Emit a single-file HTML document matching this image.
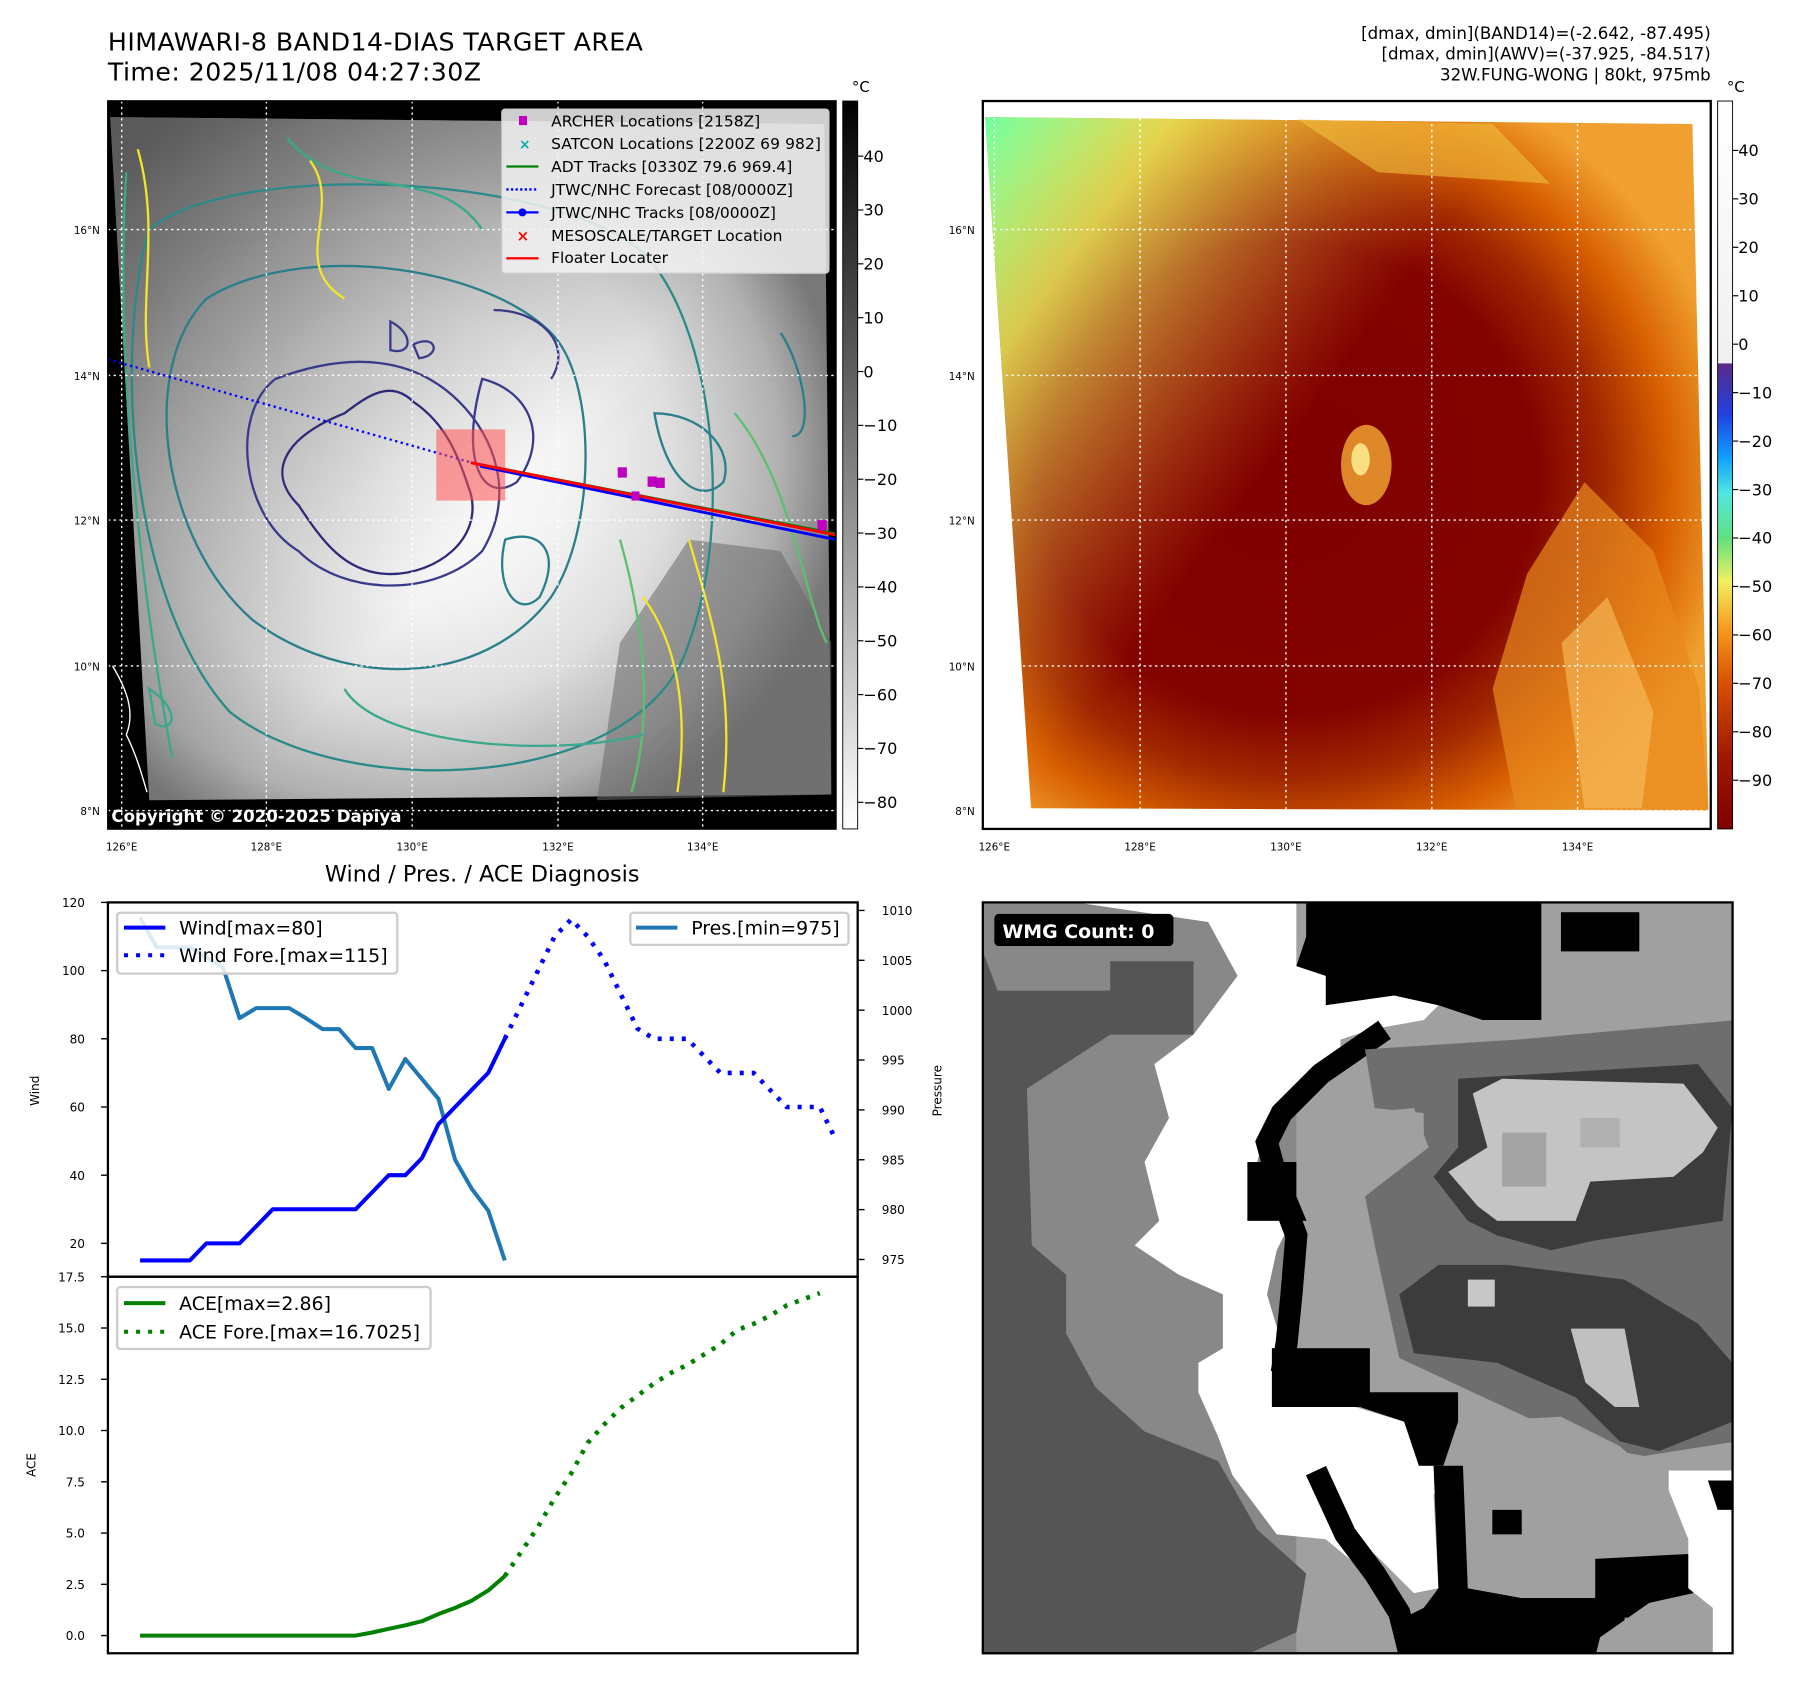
<!DOCTYPE html>
<html><head><meta charset="utf-8"><style>
html,body{margin:0;padding:0;background:#fff}
svg{display:block}
text{font-family:"DejaVu Sans","Liberation Sans",sans-serif}
</style></head><body>
<svg id="fig" width="1801" height="1690" viewBox="0 0 1568.6 1472" preserveAspectRatio="none" xmlns="http://www.w3.org/2000/svg">
<defs>
<radialGradient id="grayCenter" cx="0.42" cy="0.5" r="0.6">
<stop offset="0" stop-color="#ffffff"/><stop offset="0.35" stop-color="#f4f4f4"/><stop offset="0.6" stop-color="#dedede"/><stop offset="0.85" stop-color="#b0b0b0"/><stop offset="1" stop-color="#787878"/>
</radialGradient>
<linearGradient id="grayTL" x1="0" y1="0" x2="0.6" y2="0.5"><stop offset="0" stop-color="#555" stop-opacity="0.9"/><stop offset="1" stop-color="#555" stop-opacity="0"/></linearGradient>
<radialGradient id="redCenter" cx="0.42" cy="0.52" r="0.62">
<stop offset="0" stop-color="#800000"/><stop offset="0.55" stop-color="#820200"/><stop offset="0.7" stop-color="#a02800"/><stop offset="0.85" stop-color="#d86000"/><stop offset="1" stop-color="#f0a030"/>
</radialGradient>
<linearGradient id="greenTop" x1="0" y1="0" x2="0.5" y2="0.35"><stop offset="0" stop-color="#70ffa0"/><stop offset="0.35" stop-color="#e8f060" stop-opacity="0.8"/><stop offset="1" stop-color="#f0a030" stop-opacity="0"/></linearGradient>
<linearGradient id="grayBar" x1="0" y1="0" x2="0" y2="1"><stop offset="0" stop-color="#000"/><stop offset="1" stop-color="#fff"/></linearGradient>
<linearGradient id="colorBar" x1="0" y1="0" x2="0" y2="1">
<stop offset="0" stop-color="#ffffff"/><stop offset="0.36" stop-color="#f0f0f0"/><stop offset="0.361" stop-color="#5a2a8a"/><stop offset="0.43" stop-color="#2040e0"/><stop offset="0.49" stop-color="#10a0ff"/><stop offset="0.54" stop-color="#50e8e0"/><stop offset="0.6" stop-color="#60e080"/><stop offset="0.66" stop-color="#f0f060"/><stop offset="0.72" stop-color="#f8a020"/><stop offset="0.8" stop-color="#d85000"/><stop offset="0.9" stop-color="#a01800"/><stop offset="1" stop-color="#800000"/>
</linearGradient>
<clipPath id="clipBR"><rect x="856" y="786" width="653" height="654"/></clipPath>
<clipPath id="clipL"><rect x="94" y="88" width="634" height="634"/></clipPath>
</defs>

<text x="94" y="44" font-size="22" textLength="466">HIMAWARI-8 BAND14-DIAS TARGET AREA</text>
<text x="94" y="70" font-size="22" textLength="325">Time: 2025/11/08 04:27:30Z</text>
<text x="1490" y="34" font-size="14.5" text-anchor="end">[dmax, dmin](BAND14)=(-2.642, -87.495)</text>
<text x="1490" y="52" font-size="14.5" text-anchor="end">[dmax, dmin](AWV)=(-37.925, -84.517)</text>
<text x="1490" y="70" font-size="14.5" text-anchor="end">32W.FUNG-WONG | 80kt, 975mb</text>

<g>
<rect x="94" y="88" width="634" height="634" fill="#000"/>
<g clip-path="url(#clipL)">
<polygon points="96,102 718,108 724,692 130,697" fill="url(#grayCenter)"/>
<polygon points="96,102 718,108 724,692 130,697" fill="url(#grayTL)"/>
<polygon points="540,560 600,470 680,480 724,560 724,692 520,697" fill="#6a6a6a" opacity="0.55"/>
<g fill="none" stroke-width="2">
<path d="M300,360 C250,380 230,410 260,440 C280,470 300,500 340,500 C380,500 420,470 410,430 C400,400 390,370 360,350 C340,330 320,345 300,360Z" stroke="#2e2a78"/>
<path d="M240,330 C200,360 210,450 260,480 C300,520 380,520 420,480 C450,430 430,380 400,350 C370,320 320,300 240,330Z" stroke="#3a3a8a"/>
<path d="M180,260 C120,320 140,470 220,540 C300,600 420,600 480,520 C520,460 520,330 480,290 C420,230 260,210 180,260Z" stroke="#2a7f8a"/>
<path d="M130,200 C100,300 110,520 200,620 C300,700 560,690 600,560 C640,450 620,280 560,220 C480,150 200,140 130,200Z" stroke="#2a8a8a"/>
<path d="M110,150 C100,300 120,500 150,660 M250,120 C300,180 380,140 420,200" stroke="#3aa88a"/>
<path d="M120,130 C140,200 120,260 130,320 M270,140 C300,180 250,230 300,260" stroke="#f2e52a"/>
<path d="M560,520 C590,560 600,620 590,690 M600,470 C620,540 640,600 630,690" stroke="#f2e52a"/>
<path d="M540,470 C560,540 570,620 550,690 M640,360 C690,420 700,520 720,560" stroke="#5cc070"/>
<path d="M420,330 C460,340 480,380 450,420 C420,440 400,400 420,330Z" stroke="#3a3a8a"/>
<path d="M430,270 C470,270 500,300 480,330" stroke="#3a3a8a"/>
<path d="M340,280 C360,290 360,310 340,305Z M360,300 C380,290 385,310 365,312Z" stroke="#3a3a8a"/>
<path d="M570,360 C610,360 640,390 630,420 C610,440 580,420 570,360Z M680,290 C700,320 710,380 690,380" stroke="#2a7f8a"/>
<path d="M440,470 C470,460 490,480 470,520 C450,540 430,510 440,470Z" stroke="#2a7f8a"/>
<path d="M130,600 C160,620 150,640 135,630Z M300,600 C330,650 480,660 560,640" stroke="#3aa88a"/>
</g>
<path d="M98,580 C110,600 118,620 110,640 C120,660 125,680 128,690" fill="none" stroke="#fff" stroke-width="1.2"/>
</g>
<g stroke="#fff" stroke-width="1.2" stroke-dasharray="2,3">
<line x1="106" y1="88" x2="106" y2="722"/><line x1="232" y1="88" x2="232" y2="722"/><line x1="359" y1="88" x2="359" y2="722"/><line x1="486" y1="88" x2="486" y2="722"/><line x1="612" y1="88" x2="612" y2="722"/>
<line x1="94" y1="200" x2="728" y2="200"/><line x1="94" y1="327" x2="728" y2="327"/><line x1="94" y1="453" x2="728" y2="453"/><line x1="94" y1="580" x2="728" y2="580"/><line x1="94" y1="706" x2="728" y2="706"/>
</g>
<line x1="94" y1="313" x2="418" y2="405" stroke="#0000ff" stroke-width="2" stroke-dasharray="2,3"/>
<rect x="380" y="374" width="60" height="62" fill="#ff5050" opacity="0.55"/>
<line x1="420" y1="405" x2="728" y2="465" stroke="#008000" stroke-width="2.5"/>
<line x1="418" y1="406" x2="728" y2="470" stroke="#0000ff" stroke-width="2.5"/>
<line x1="410" y1="403" x2="728" y2="466" stroke="#ff0000" stroke-width="2.5"/>
<g fill="#c000c0">
<rect x="538" y="407" width="8" height="9"/><rect x="564" y="415" width="8" height="9"/><rect x="571" y="416" width="8" height="9"/><rect x="550" y="428" width="7" height="8"/><rect x="712" y="453" width="8" height="9"/>
</g>
<text x="97" y="716" font-size="14.5" font-weight="bold" fill="#fff">Copyright © 2020-2025 Dapiya</text>
<g font-size="13.5">
<rect x="437" y="95" width="285" height="143" rx="3" fill="#f2f2f2" fill-opacity="0.85" stroke="#ccc"/>
<rect x="452" y="101" width="7" height="8" fill="#c000c0"/><text x="480" y="110">ARCHER Locations [2158Z]</text>
<text x="452" y="130" font-size="12" fill="#00b0b0" font-weight="bold">×</text><text x="480" y="130" textLength="235">SATCON Locations [2200Z 69 982]</text>
<line x1="441" y1="145" x2="469" y2="145" stroke="#008000" stroke-width="2"/><text x="480" y="150">ADT Tracks [0330Z 79.6 969.4]</text>
<line x1="441" y1="165" x2="469" y2="165" stroke="#0000ff" stroke-width="2" stroke-dasharray="2,2"/><text x="480" y="170">JTWC/NHC Forecast [08/0000Z]</text>
<line x1="441" y1="185" x2="469" y2="185" stroke="#0000ff" stroke-width="2"/><circle cx="455" cy="185" r="3.5" fill="#0000ff"/><text x="480" y="190">JTWC/NHC Tracks [08/0000Z]</text>
<text x="450" y="210" font-size="13" fill="#ff0000" font-weight="bold">×</text><text x="480" y="210">MESOSCALE/TARGET Location</text>
<line x1="441" y1="225" x2="469" y2="225" stroke="#ff0000" stroke-width="2"/><text x="480" y="229">Floater Locater</text>
</g>
<rect x="94" y="88" width="634" height="634" fill="none" stroke="#000" stroke-width="1.5"/>
</g>
<g font-size="9">
<text x="87" y="204" text-anchor="end">16°N</text><text x="87" y="331" text-anchor="end">14°N</text><text x="87" y="457" text-anchor="end">12°N</text><text x="87" y="584" text-anchor="end">10°N</text><text x="87" y="710" text-anchor="end">8°N</text>
<text x="106" y="741" text-anchor="middle">126°E</text><text x="232" y="741" text-anchor="middle">128°E</text><text x="359" y="741" text-anchor="middle">130°E</text><text x="486" y="741" text-anchor="middle">132°E</text><text x="612" y="741" text-anchor="middle">134°E</text>
</g>
<g>
<rect x="734" y="88" width="13" height="634" fill="url(#grayBar)" stroke="#000" stroke-width="0.8"/>
<text x="742" y="80" font-size="13">°C</text>
<g font-size="14" id="grayTicks"></g>
</g>

<g>
<rect x="856" y="88" width="634" height="634" fill="#fff"/>
<polygon points="858,102 1474,108 1488,706 898,704" fill="url(#redCenter)"/>
<polygon points="858,102 1474,108 1488,706 898,704" fill="url(#greenTop)"/>
<polygon points="1130,104 1300,108 1350,160 1200,150" fill="#f0c040" opacity="0.6"/>
<polygon points="1330,500 1380,420 1440,480 1480,600 1488,706 1320,704 1300,600" fill="#e88a20" opacity="0.7"/>
<polygon points="1360,560 1400,520 1440,620 1430,704 1380,704" fill="#f8c060" opacity="0.6"/>
<ellipse cx="1190" cy="405" rx="22" ry="35" fill="#f0a030" opacity="0.85"/>
<ellipse cx="1185" cy="400" rx="8" ry="14" fill="#f8e080"/>
<g stroke="#fff" stroke-width="1.2" stroke-dasharray="2,3">
<line x1="866" y1="88" x2="866" y2="722"/><line x1="993" y1="88" x2="993" y2="722"/><line x1="1120" y1="88" x2="1120" y2="722"/><line x1="1247" y1="88" x2="1247" y2="722"/><line x1="1374" y1="88" x2="1374" y2="722"/>
<line x1="856" y1="200" x2="1490" y2="200"/><line x1="856" y1="327" x2="1490" y2="327"/><line x1="856" y1="453" x2="1490" y2="453"/><line x1="856" y1="580" x2="1490" y2="580"/><line x1="856" y1="706" x2="1490" y2="706"/>
</g>
<rect x="856" y="88" width="634" height="634" fill="none" stroke="#000" stroke-width="2"/>
</g>
<g font-size="9">
<text x="849" y="204" text-anchor="end">16°N</text><text x="849" y="331" text-anchor="end">14°N</text><text x="849" y="457" text-anchor="end">12°N</text><text x="849" y="584" text-anchor="end">10°N</text><text x="849" y="710" text-anchor="end">8°N</text>
<text x="866" y="741" text-anchor="middle">126°E</text><text x="993" y="741" text-anchor="middle">128°E</text><text x="1120" y="741" text-anchor="middle">130°E</text><text x="1247" y="741" text-anchor="middle">132°E</text><text x="1374" y="741" text-anchor="middle">134°E</text>
</g>
<g>
<rect x="1496" y="88" width="13" height="634" fill="url(#colorBar)" stroke="#000" stroke-width="0.8"/>
<text x="1504" y="80" font-size="13">°C</text>
<g font-size="14" id="colorTicks"></g>
</g>

<g>
<rect x="856" y="786" width="653" height="654" fill="#a0a0a0"/>
<g clip-path="url(#clipBR)"><g transform="translate(856,786) scale(0.4267)">
<rect x="0" y="0" width="640" height="1540" fill="#888"/>
<polygon points="190,0 640,0 640,130 720,150 720,200 840,190 930,210 900,240 790,260 730,280 730,330 650,360 590,420 560,530 630,650 600,710 580,800 610,900 590,1030 680,1000 760,1030 860,1060 890,1150 950,1150 920,1210 930,1400 880,1410 800,1330 760,1350 700,1300 600,1290 510,1170 480,1090 440,1000 440,940 490,910 490,800 400,760 310,700 360,650 330,530 380,440 350,330 430,270 520,150 460,40" fill="#fff"/>
<polygon points="0,100 30,180 260,180 260,120 430,120 430,270 260,270 90,380 100,700 170,760 170,880 230,990 330,1080 480,1140 560,1280 660,1370 640,1490 550,1530 0,1540" fill="#555"/>
<polygon points="660,0 1140,0 1140,240 1020,240 960,220 930,210 840,190 700,210 700,150 640,130 660,70" fill="#000"/>
<rect x="1180" y="20" width="160" height="80" fill="#000"/>
<polyline points="820,260 690,350 610,430 580,490 610,600 640,680 630,800 620,900 610,960" fill="none" stroke="#000" stroke-width="45"/>
<rect x="540" y="530" width="150" height="120" fill="#000"/>
<rect x="590" y="910" width="200" height="120" fill="#000"/>
<polygon points="770,1000 970,1000 970,1060 940,1150 890,1150 860,1060 770,1030" fill="#000"/>
<polyline points="680,1160 740,1290 800,1370 850,1450 870,1530" fill="none" stroke="#000" stroke-width="45"/>
<polygon points="920,1150 980,1150 990,1400 1100,1420 1250,1420 1250,1340 1440,1330 1450,1410 1360,1430 1260,1500 1250,1540 850,1540 840,1470 900,1440 930,1400" fill="#000"/>
<polygon points="1400,1160 1540,1160 1540,1540 1490,1540 1490,1440 1440,1400 1440,1300 1400,1200" fill="#fff"/>
<polygon points="1480,1180 1540,1180 1540,1240 1500,1240" fill="#000"/>
<polygon points="780,300 1090,280 1540,240 1540,1100 1350,1130 1180,1100 1130,1060 1000,1000 850,930 800,700 780,600 900,500 900,430 800,420" fill="#6e6e6e"/>
<polygon points="640,440 880,420 910,500 780,600 800,700 690,720 640,600" fill="#a0a0a0"/>
<polygon points="970,360 1460,330 1530,420 1510,650 1250,690 1160,710 1050,680 990,650 920,560 970,500" fill="#3c3c3c"/>
<polygon points="850,800 930,740 1070,740 1310,770 1460,860 1530,940 1530,1060 1380,1120 1300,1100 1210,1010 1050,940 880,920" fill="#3c3c3c"/>
<polygon points="1000,390 1060,360 1430,370 1500,460 1470,510 1410,560 1240,570 1210,650 1050,650 1010,620 950,550 1030,500" fill="#c4c4c4"/>
<rect x="1060" y="470" width="90" height="110" fill="#a4a4a4"/><rect x="1220" y="440" width="80" height="60" fill="#b0b0b0"/>
<polygon points="1200,870 1310,870 1340,1030 1290,1030 1230,980" fill="#c0c0c0"/>
<rect x="990" y="770" width="55" height="55" fill="#c8c8c8"/>
<polygon points="980,1060 1180,1050 1300,1110 1380,1180 1420,1300 1250,1330 1240,1420 1100,1420 990,1400" fill="#a0a0a0"/>
<rect x="1040" y="1240" width="60" height="50" fill="#000"/>
<rect x="1310" y="1460" width="120" height="70" fill="#a0a0a0"/>
</g></g>
<rect x="866" y="796" width="156" height="28" rx="4" fill="#000"/>
<text x="873" y="817" font-size="16.5" font-weight="bold" fill="#fff">WMG Count: 0</text>
<rect x="856" y="786" width="653" height="654" fill="none" stroke="#000" stroke-width="2"/>
</g>

<text x="420" y="768" font-size="19.5" text-anchor="middle">Wind / Pres. / ACE Diagnosis</text>
<g id="chart"></g>
</svg>
<script>
const windHist = [15,15,15,15,20,20,20,25,30,30,30,30,30,30,35,40,40,45,55,60,65,70,80];
const windFore = [80,90,100,110,115,110,103,93,83,80,80,80,75,70,70,70,65,60,60,60,50];
const presHist = [1009.3,1006.3,1006.3,1006.3,1005.3,1004.3,999.2,1000.2,1000.2,1000.2,999.2,998.1,998.1,996.2,996.2,992.1,995.1,993.1,991.1,985.0,982.1,979.9,974.9];
const aceHist = [0,0,0,0,0,0,0,0,0,0,0,0,0,0,0.15,0.33,0.5,0.7,1.05,1.35,1.7,2.2,2.9];
const aceFore = [2.9,4.1,5.3,6.7,7.9,9.4,10.3,11.1,11.7,12.3,12.8,13.2,13.7,14.2,14.9,15.2,15.6,16.1,16.4,16.7];
const windTicks = [20,40,60,80,100,120];
const presTicks = [975,980,985,990,995,1000,1005,1010];
const aceTicks = [0,2.5,5,7.5,10,12.5,15,17.5];
const grayCbTicks = [40,30,20,10,0,-10,-20,-30,-40,-50,-60,-70,-80];
const colorCbTicks = [40,30,20,10,0,-10,-20,-30,-40,-50,-60,-70,-80,-90];

const NS='http://www.w3.org/2000/svg';
const chart=document.getElementById('chart');
const L=94,R=747,T1=786,B1=1112,B2=1440;
const xS=i=>122+i*14.44;
const yW=v=>786+(120-v)*2.97;
const yP=p=>793+(1010-p)*8.686;
const yA=a=>1424.6-a*17.86;
function mk(tag,attrs,parent){const e=document.createElementNS(NS,tag);for(const k in attrs)e.setAttribute(k,attrs[k]);(parent||chart).appendChild(e);return e;}
function poly(vals,off,yf,color,w,dash){return mk('polyline',{points:vals.map((v,i)=>xS(i+off)+','+yf(v)).join(' '),fill:'none',stroke:color,'stroke-width':w,'stroke-dasharray':dash||'none','stroke-linejoin':'round'});}
let f1=mk('rect',{x:L,y:T1,width:R-L,height:B1-T1,fill:'none',stroke:'#000','stroke-width':2});


let f2=mk('rect',{x:L,y:B1,width:R-L,height:B2-B1,fill:'none',stroke:'#000','stroke-width':2});


windTicks.forEach(v=>{const y=yW(v);mk('line',{x1:L-6,x2:L,y1:y,y2:y,stroke:'#000','stroke-width':1.2});const t=mk('text',{x:L-20,y:y+4,'font-size':10.5,'text-anchor':'end'});t.textContent=v;

});
presTicks.forEach(v=>{const y=yP(v);mk('line',{x1:R,x2:R+6,y1:y,y2:y,stroke:'#000','stroke-width':1.2});const t=mk('text',{x:R+21,y:y+4,'font-size':10.5});t.textContent=v;

});
aceTicks.forEach(v=>{const y=yA(v);mk('line',{x1:L-6,x2:L,y1:y,y2:y,stroke:'#000','stroke-width':1.2});const t=mk('text',{x:L-20,y:y+4,'font-size':10.5,'text-anchor':'end'});t.textContent=v.toFixed(1);

});
function rotLabel(txt,x,y,name){const t=mk('text',{x:x,y:y,'font-size':10.5,'text-anchor':'middle',transform:'rotate(-90 '+x+' '+y+')'});t.textContent=txt;

}
rotLabel('Wind',34,950,'wind-axis-title');rotLabel('Pressure',820,950,'pressure-axis-title');rotLabel('ACE',31,1276,'ace-axis-title');
let s;
s=poly(presHist,0,yP,'#1f77b4',3.5);


s=poly(windHist,0,yW,'#0000ff',3.5);


s=poly(windFore,22,yW,'#0000ff',4,'3.5,7');


s=poly(aceHist,0,yA,'#008000',3.5);


s=poly(aceFore,22,yA,'#008000',4,'3.5,7');


function legendBox(x,y,w,h,name){const r=mk('rect',{x:x,y:y,width:w,height:h,rx:3,fill:'#fff','fill-opacity':0.85,stroke:'#ccc','stroke-width':2});

}
function legItem(x,y,color,dash,label,name){mk('line',{x1:x,x2:x+36,y1:y,y2:y,stroke:color,'stroke-width':3.5,'stroke-dasharray':dash||'none'});const t=mk('text',{x:x+48,y:y+6,'font-size':16.5});t.textContent=label;

}
legendBox(102,795,244,53,'wind-legend');
legItem(108,808,'#0000ff','','Wind[max=80]','legend-wind');
legItem(108,832,'#0000ff','3.5,7','Wind Fore.[max=115]','legend-wind-forecast');
legendBox(549,795,190,28,'pressure-legend');
legItem(554,808,'#1f77b4','','Pres.[min=975]','legend-pressure');
legendBox(102,1121,273,54,'ace-legend');
legItem(108,1135,'#008000','','ACE[max=2.86]','legend-ace');
legItem(108,1160,'#008000','3.5,7','ACE Fore.[max=16.7025]','legend-ace-forecast');
const gt=document.getElementById('grayTicks');
grayCbTicks.forEach((v,i)=>{const y=136+i*46.9;mk('line',{x1:747,x2:752,y1:y,y2:y,stroke:'#000'},gt);const t=mk('text',{x:752,y:y+5},gt);t.textContent=String(v).replace('-','\u2212');

});
const ct=document.getElementById('colorTicks');
colorCbTicks.forEach((v,i)=>{const y=131+i*42.2;mk('line',{x1:1509,x2:1514,y1:y,y2:y,stroke:'#000'},ct);const t=mk('text',{x:1514,y:y+5},ct);t.textContent=String(v).replace('-','\u2212');

});
</script>
</body></html>
